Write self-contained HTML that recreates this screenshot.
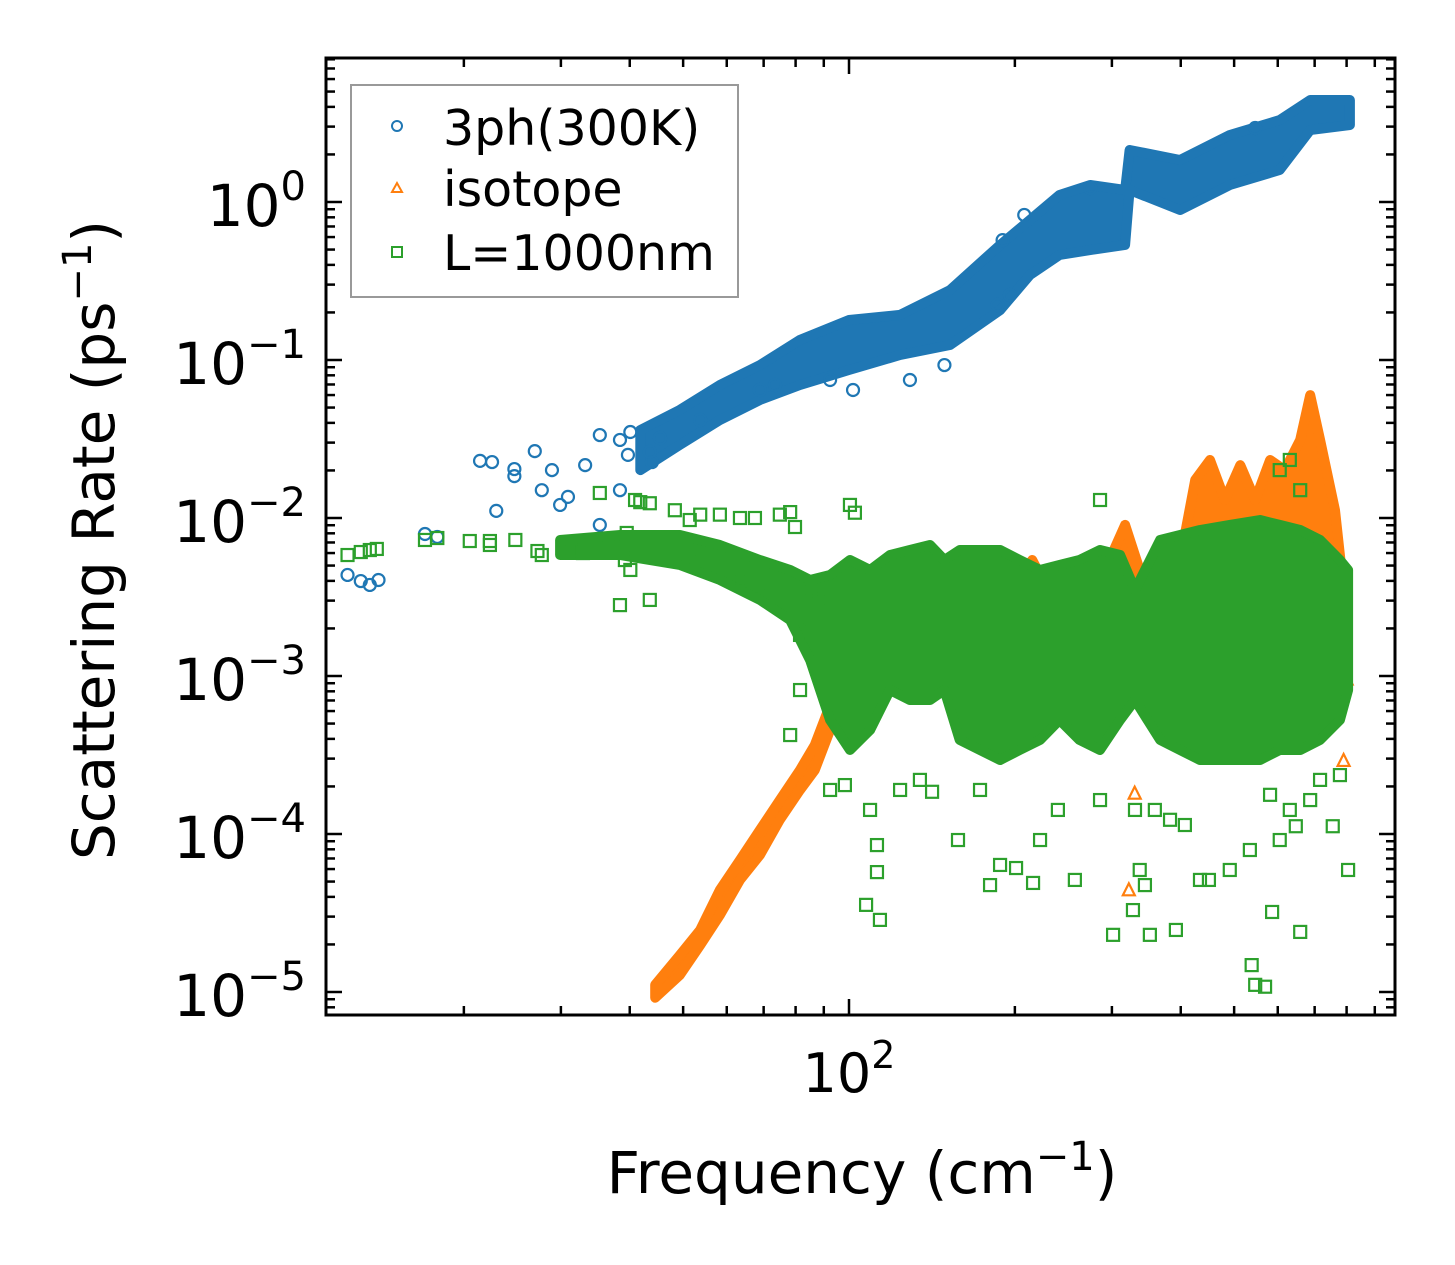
<!DOCTYPE html>
<html><head><meta charset="utf-8">
<style>
html,body{margin:0;padding:0;background:#fff;}
svg{display:block;font-family:"DejaVu Sans","Liberation Sans",sans-serif;}
</style></head>
<body>
<svg id="chart" width="1455" height="1265" viewBox="0 0 1455 1265" xmlns="http://www.w3.org/2000/svg">
<rect width="1455" height="1265" fill="#fff"/>
<g id="marks"></g>
<g id="axes"></g>
<g id="legend">
 <rect x="351" y="85" width="387" height="212" fill="#fff" stroke="#999" stroke-width="2"/>
 <circle cx="397" cy="126" r="5" fill="none" stroke="#1f77b4" stroke-width="2"/>
 <text x="443" y="145" font-size="49">3ph(300K)</text>
 <polygon points="397,183 392,192 402,192" fill="none" stroke="#ff7f0e" stroke-width="2"/>
 <text x="443" y="206" font-size="49">isotope</text>
 <rect x="392" y="247" width="10" height="10" fill="none" stroke="#2ca02c" stroke-width="2"/>
 <text x="443" y="270" font-size="49">L=1000nm</text>
</g>
<text x="862" y="1193" font-size="58" text-anchor="middle">Frequency (cm<tspan font-size="40" dy="-23">−1</tspan><tspan dy="23">)</tspan></text>
<text transform="translate(114,540) rotate(-90)" font-size="58" text-anchor="middle">Scattering Rate (ps<tspan font-size="40" dy="-23">−1</tspan><tspan dy="23">)</tspan></text>
</svg>
<script>
// ---- data (frequency cm^-1, rate ps^-1) ----
const blueBandFreq = [41.8,49.3,58.3,68.9,81.5,100,123.8,152.5,188,213,241,274,317,323,399,491,605,687,811];
const blueBandLo   = [0.0201,0.0290,0.0417,0.0558,0.0695,0.0865,0.1076,0.1245,0.207,0.345,0.462,0.497,0.535,1.191,0.890,1.281,1.595,2.85,3.07];
const blueBandHi   = [0.0360,0.0483,0.0695,0.0929,0.134,0.179,0.193,0.277,0.535,0.769,1.107,1.281,1.191,2.134,1.844,2.655,3.30,4.42,4.42];
const bluePtsFreq = [12.3,13.0,13.5,14.0,17.0,17.9,21.4,22.5,22.9,24.7,24.7,26.9,27.7,28.9,29.9,30.9,33.2,35.3,38.4,40.1,39.7,43.9,45.4,35.3,38.4,43.5,53.7,68.9,73.4,92.4,101.7,129,149,190,208,546,186,196,274];
const bluePtsVal  = [0.00436,0.00399,0.00377,0.00405,0.00792,0.00759,0.0230,0.0226,0.0111,0.0204,0.0184,0.0265,0.0150,0.0201,0.0121,0.0136,0.0216,0.0335,0.0312,0.0350,0.0251,0.0226,0.0321,0.00904,0.0150,0.0262,0.0417,0.0646,0.0695,0.0747,0.0646,0.0747,0.0929,0.574,0.828,2.94,0.223,0.258,1.226];

const orangeBandFreq = [44.5,49.3,53.7,58.3,63.4,68.9,74.9,81.5,86.7,92.4,96.3,100.4,123.8,158.8,188,204,215,227,241,262,291.5,317,337,367,399,425,452,481,513,546,581,618,659,687,716,762,794];
const orangeBandLo = [9.2e-6,1.28e-5,1.98e-5,3.07e-5,5.12e-5,7.36e-5,1.23e-4,1.90e-4,2.54e-4,4.55e-4,6.10e-4,7.05e-4,9.44e-4,9.44e-4,9.44e-4,9.44e-4,9.44e-4,9.44e-4,8.15e-4,9.44e-4,9.44e-4,9.44e-4,9.44e-4,9.44e-4,9.44e-4,9.44e-4,9.44e-4,9.44e-4,9.44e-4,9.44e-4,9.44e-4,9.44e-4,9.44e-4,9.44e-4,9.44e-4,9.44e-4,9.44e-4];
const orangeBandHi = [1.11e-5,1.71e-5,2.47e-5,4.43e-5,6.84e-5,1.06e-4,1.64e-4,2.54e-4,3.66e-4,6.55e-4,9.44e-4,1.46e-3,2.26e-3,3.03e-3,3.5e-3,4.05e-3,5.42e-3,3.77e-3,3.77e-3,4.05e-3,4.69e-3,9.04e-3,4.69e-3,4.05e-3,5.42e-3,0.0174,0.0233,0.0130,0.0216,0.0130,0.0233,0.0201,0.0312,0.0600,0.0312,0.0112,3.03e-3];
const orangePtsFreq = [322,330,790,800];
const orangePtsVal  = [4.4e-5,1.8e-4,2.9e-4,9.5e-4];

const greenBandFreq = [29.9,38.4,49.3,58.3,68.9,78.2,85.0,92.4,100.4,109.2,118.7,129,140.3,149,158.8,172.9,188,204,222.2,241,262,285.5,310.5,330.4,367,399,433.5,491,557,605,659,716,778,805];
const greenBandLo = [5.83e-3,5.83e-3,5.04e-3,4.05e-3,3.03e-3,2.26e-3,1.26e-3,5.27e-4,3.40e-4,4.55e-4,8.15e-4,7.05e-4,7.05e-4,8.15e-4,3.94e-4,3.40e-4,2.94e-4,3.40e-4,3.94e-4,5.27e-4,3.94e-4,3.40e-4,5.27e-4,7.05e-4,3.94e-4,3.40e-4,2.94e-4,2.94e-4,2.94e-4,3.40e-4,3.40e-4,3.94e-4,5.27e-4,8.15e-4];
const greenBandHi = [7.26e-3,7.80e-3,7.80e-3,6.75e-3,5.42e-3,4.69e-3,4.05e-3,4.36e-3,5.42e-3,4.69e-3,5.83e-3,6.27e-3,6.75e-3,5.42e-3,6.27e-3,6.27e-3,6.27e-3,5.42e-3,4.69e-3,5.04e-3,5.42e-3,6.27e-3,5.83e-3,3.50e-3,7.26e-3,7.80e-3,8.40e-3,9.04e-3,9.71e-3,9.04e-3,8.40e-3,7.26e-3,5.42e-3,4.69e-3];
const greenPtsFreq = [12.3,13.0,13.5,13.9,17.0,17.9,20.5,22.3,22.3,24.8,27.2,27.7,31.2,32.9,35.3,36.4,39.5,40.9,41.8,43.5,48.3,51.4,53.7,58.3,63.4,67.5,74.9,78.2,79.8,85.0,88.5,100.4,102.5,38.4,43.5,39.2,40.1,53.7,63.4,68.9,285.5,631,659,605,81.5,78.2,330.4,81.5,85.0,
 92.4,98.3,109.2,112.4,112.4,107.4,113.8,123.8,134.5,141.5,157.7,172.9,180.3,188,201,215.8,222.2,239.4,257,285.5,301.5,327.6,337,344.4,351.6,359,382.5,392,407,433.5,450,491,534,538,546,581,605,631,647,659,687,716,755,805,778,569,586];
const greenPtsVal = [5.83e-3,6.09e-3,6.27e-3,6.37e-3,7.26e-3,7.47e-3,7.15e-3,7.15e-3,6.75e-3,7.26e-3,6.18e-3,5.83e-3,6.27e-3,6.00e-3,0.0144,6.95e-3,8.04e-3,0.0130,0.0126,0.0124,0.0112,9.71e-3,0.0105,0.0105,0.0100,0.0100,0.0105,0.0109,8.77e-3,3.50e-3,3.03e-3,0.0121,0.0108,2.81e-3,3.03e-3,5.42e-3,4.69e-3,5.42e-3,4.05e-3,3.77e-3,0.0130,0.0233,0.0150,0.0201,8.15e-4,4.23e-4,1.42e-4,1.82e-3,1.95e-3,
 1.90e-4,2.04e-4,1.42e-4,8.51e-5,5.74e-5,3.56e-5,2.86e-5,1.90e-4,2.20e-4,1.85e-4,9.16e-5,1.90e-4,4.75e-5,6.37e-5,6.09e-5,4.90e-5,9.16e-5,1.42e-4,5.12e-5,1.64e-4,2.30e-5,3.30e-5,5.92e-5,4.75e-5,2.30e-5,1.42e-4,1.23e-4,2.47e-5,1.14e-4,5.12e-5,5.12e-5,5.92e-5,7.92e-5,1.48e-5,1.11e-5,1.77e-4,9.16e-5,1.42e-4,1.12e-4,2.40e-5,1.64e-4,2.20e-4,1.12e-4,5.92e-5,2.36e-4,1.08e-5,3.21e-5];

const xMajorTicks = [100];
const xMinorTicks = [20,30,40,50,60,70,80,90,200,300,400,500,600,700,800,900];
const yExponents = [0,-1,-2,-3,-4,-5];

// ---- axes ----
const L=326,R=1395,T=58,B=1015;
function X(f){return 849+551*Math.log10(f/100);}
function Y(v){return 202-158*Math.log10(v);}
const NS="http://www.w3.org/2000/svg";
function mk(tag,attrs,parent){const e=document.createElementNS(NS,tag);for(const k in attrs)e.setAttribute(k,attrs[k]);parent.appendChild(e);return e;}
const marks=document.getElementById('marks');
const axes=document.getElementById('axes');

function band(freq,lo,hi,color,name){
  let pts=[];
  for(let i=0;i<freq.length;i++)pts.push(X(freq[i]).toFixed(1)+','+Y(hi[i]).toFixed(1));
  for(let i=freq.length-1;i>=0;i--)pts.push(X(freq[i]).toFixed(1)+','+Y(lo[i]).toFixed(1));
  const p=mk('polygon',{points:pts.join(' '),fill:color,stroke:color,'stroke-width':10,'stroke-linejoin':'round'},marks);
  
  
}
function circles(fs,vs,color,name){
  for(let i=0;i<fs.length;i++){
    const c=mk('circle',{cx:X(fs[i]),cy:Y(vs[i]),r:6,fill:'none',stroke:color,'stroke-width':2.2},marks);
    
    
  }
}
function tris(fs,vs,color,name){
  for(let i=0;i<fs.length;i++){
    const x=X(fs[i]),y=Y(vs[i]);
    const t=mk('polygon',{points:`${x},${y-7} ${x-6},${y+5} ${x+6},${y+5}`,fill:'none',stroke:color,'stroke-width':2.2},marks);
    
    
  }
}
function squares(fs,vs,color,name){
  for(let i=0;i<fs.length;i++){
    const s=mk('rect',{x:X(fs[i])-6,y:Y(vs[i])-6,width:12,height:12,fill:'none',stroke:color,'stroke-width':2.2},marks);
    
    
  }
}
band(blueBandFreq,blueBandLo,blueBandHi,'#1f77b4','3ph-cloud');
circles(bluePtsFreq,bluePtsVal,'#1f77b4','3ph-point');
band(orangeBandFreq,orangeBandLo,orangeBandHi,'#ff7f0e','isotope-cloud');
tris(orangePtsFreq,orangePtsVal,'#ff7f0e','isotope-point');
band(greenBandFreq,greenBandLo,greenBandHi,'#2ca02c','boundary-cloud');
squares(greenPtsFreq,greenPtsVal,'#2ca02c','boundary-point');

// frame
const fr=mk('rect',{x:L,y:T,width:R-L,height:B-T,fill:'none',stroke:'#000','stroke-width':3},axes);


function tick(x1,y1,x2,y2,name){
  const l=mk('line',{x1,y1,x2,y2,stroke:'#000','stroke-width':2.5},axes);
  
  
}
xMajorTicks.forEach(f=>{const x=X(f);tick(x,B,x,B-16,'x-major-tick');tick(x,T,x,T+16,'x-major-tick');
  const t=mk('text',{x:x,y:1092,'font-size':54,'text-anchor':'middle'},axes);
  t.innerHTML='10<tspan font-size="38" dy="-24">'+Math.log10(f)+'</tspan>';
  
  
});
xMinorTicks.forEach(f=>{const x=X(f);tick(x,B,x,B-9,'x-minor-tick');tick(x,T,x,T+9,'x-minor-tick');});
const yMin=Math.pow(10,(202-B)/158), yMax=Math.pow(10,(202-T)/158);
yExponents.forEach(e=>{const y=Y(Math.pow(10,e));tick(L,y,L+16,y,'y-major-tick');tick(R,y,R-16,y,'y-major-tick');
  const t=mk('text',{x:306,y:y+24,'font-size':58,'text-anchor':'end'},axes);
  t.innerHTML='10<tspan font-size="40" dy="-26">'+(e<0?'−'+(-e):e)+'</tspan>';
  
  
});
for(let e=-6;e<=1;e++){for(let m=2;m<=9;m++){const v=m*Math.pow(10,e);if(v<yMin||v>yMax)continue;const y=Y(v);tick(L,y,L+9,y,'y-minor-tick');tick(R,y,R-9,y,'y-minor-tick');}}
</script>
</body></html>
